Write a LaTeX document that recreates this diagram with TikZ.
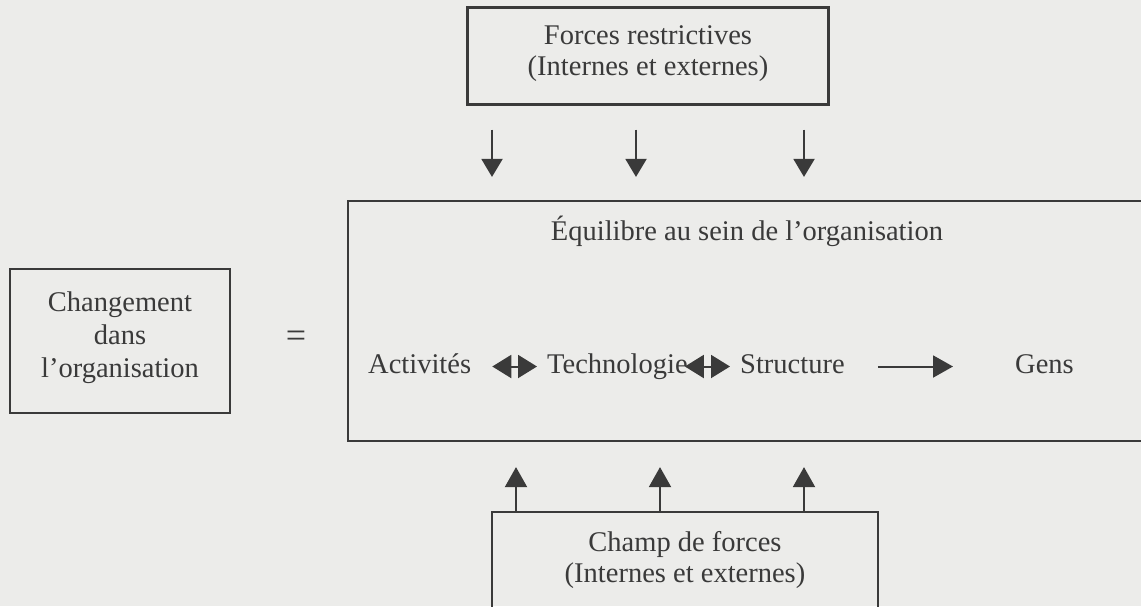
\documentclass[tikz,border=0pt]{standalone}
\usepackage{fontspec}
\setmainfont{Liberation Serif}
\usetikzlibrary{arrows.meta}
\definecolor{paper}{RGB}{236,236,234}
\definecolor{ink}{RGB}{58,58,58}
\tikzset{
  box/.style={draw=ink, line width=2.2pt, fill=none, inner sep=0pt},
  txt/.style={text=ink, inner sep=0pt, font=\fontsize{28.5}{31}\selectfont},
  row/.style={txt, anchor=base west, text height=19pt, text depth=6pt},
  force/.style={draw=ink, line width=2pt, -{Triangle[length=18pt,width=21pt]}},
  flow/.style={draw=ink, line width=2pt, -{Triangle[length=20pt,width=22pt]}},
  link/.style={draw=ink, line width=2pt, {Triangle[length=19pt,width=23pt]}-{Triangle[length=19pt,width=23pt]}},
}
\begin{document}
\begin{tikzpicture}[x=1pt,y=-1pt]
\useasboundingbox (0,0) rectangle (1141,606);
\fill[paper] (0,0) rectangle (1141,606);
\clip (0,0) rectangle (1141,606);

% restraining forces (top)
\node[box, minimum width=361pt, minimum height=97pt] (restr) at (648,56) {};
\node[txt, align=center] (restrtxt) at (648,54) {Forces restrictives\\(Internes et externes)};

% equilibrium frame (open to the right)
\node[box, minimum width=820pt, minimum height=240pt] (eq) at (758,321) {};
\node[txt, anchor=base] (eqtitle) at (747,240) {Équilibre au sein de l’organisation};

% change box and equals sign
\node[box, minimum width=220pt, minimum height=144pt] (chg) at (120,341) {};
\node[txt, align=center, font=\fontsize{28.5}{33}\selectfont] (chgtxt) at (120,338) {Changement\\dans\\l’organisation};
\node[txt, font=\fontsize{36}{36}\selectfont] (eqsign) at (296,339) {=};

% driving forces (bottom)
\node[box, minimum width=386pt, minimum height=200pt] (champ) at (685,612) {};
\node[txt, align=center] (champtxt) at (685,560) {Champ de forces\\(Internes et externes)};

% components of the organisation
\node[row] (act)  at (368,373) {Activités};
\node[row] (tech) at (547,373) {Technologie};
\node[row] (str)  at (740,373) {Structure};
\node[row] (gens) at (1015,373) {Gens};

\draw[link, shorten <=21pt, shorten >=10pt] (act.east) -- (tech.west);
\draw[link, shorten <=-3pt, shorten >=10pt] (tech.east) -- (str.west);
\draw[flow, shorten <=33pt, shorten >=62pt] (str.east) -- (gens.west);

% arrows of the force field
\coordinate (a1) at (492,0);
\coordinate (a2) at (636,0);
\coordinate (a3) at (804,0);
\coordinate (b1) at (516,0);
\coordinate (b2) at (660,0);
\coordinate (b3) at (804,0);
\foreach \c in {a1,a2,a3}
  \draw[force, shorten <=24pt, shorten >=23pt] (restr.south -| \c) -- (eq.north -| \c);
\foreach \c in {b1,b2,b3}
  \draw[flow, shorten <=0pt, shorten >=25pt] (champ.north -| \c) -- (eq.south -| \c);
\end{tikzpicture}
\end{document}
